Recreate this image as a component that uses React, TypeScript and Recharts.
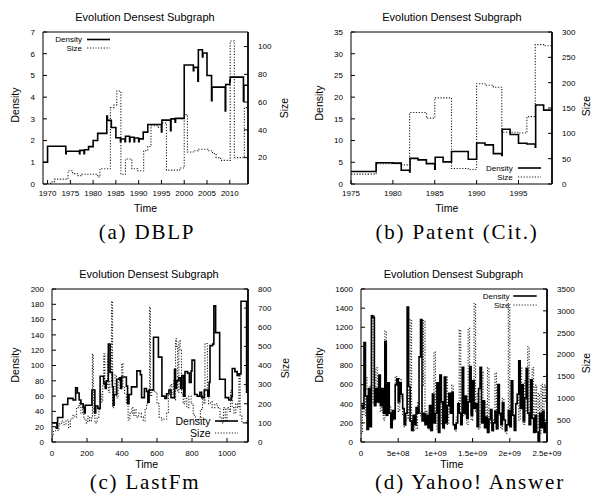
import React from "react";
import { ComposedChart, Line, XAxis, YAxis, Legend } from "recharts";

const SANS = '"Liberation Sans", Arial, Helvetica, sans-serif';
const SERIF = '"Liberation Serif", "DejaVu Serif", serif';
const SIZE_DASH = "1.2 1.6";

// (a) DBLP
const dblpDensityYear = [1969, 1970, 1974, 1974.1, 1977, 1977.1, 1978, 1978.1, 1979, 1980, 1981, 1983, 1983.15, 1984, 1985, 1986, 1986.1, 1987, 1987.1, 1988, 1988.1, 1989, 1989.1, 1990, 1990.1, 1991, 1992, 1995, 1995.1, 1997, 1997.1, 1998, 1998.1, 2000, 2002, 2002.1, 2003, 2003.1, 2004, 2004.1, 2005, 2006, 2006.1, 2009, 2009.1, 2010, 2010.1, 2013, 2013.1, 2014];
const dblpDensity = [1.0, 1.74, 1.4, 1.51, 1.4, 1.55, 1.4, 1.58, 1.72, 2.0, 2.33, 3.13, 2.93, 2.6, 2.13, 1.95, 2.07, 1.95, 2.2, 1.95, 2.15, 1.95, 2.12, 1.95, 2.08, 2.39, 2.74, 2.4, 2.94, 2.45, 3.0, 2.85, 3.02, 5.48, 5.22, 5.37, 4.73, 6.18, 5.85, 6.03, 5.0, 3.84, 4.46, 3.36, 4.58, 4.75, 4.92, 3.8, 4.55, 4.55];
const dblpSizeYear = [1969, 1970.3, 1971, 1971.5, 1974.5, 1975.5, 1976.5, 1977.5, 1981, 1981.5, 1983.8, 1984.6, 1985.2, 1986.1, 1987.1, 1988.5, 1989.8, 1991.1, 1992, 1992.7, 1994.3, 1995, 1996.1, 1999, 2000, 2000.7, 2002, 2003, 2005.2, 2006.2, 2007, 2008, 2010.1, 2011, 2013.2, 2014];
const dblpSize = [0.5, 1.5, 2.5, 4.5, 10.5, 8.5, 7, 8, 6, 12, 56, 58, 68, 8, 19, 12, 10.5, 25, 28, 43, 42, 45, 11, 12.5, 51, 24, 25, 26, 25, 23, 20, 18, 104, 20, 56, 56];
const dblpYearTicks = [1970, 1975, 1980, 1985, 1990, 1995, 2000, 2005, 2010];
const dblpDensityTicks = [0, 1, 2, 3, 4, 5, 6, 7];
const dblpSizeTicks = [20, 40, 60, 80, 100];

// (b) Patent (Cit.)
const patentDensityYear = [1975, 1978, 1980, 1981, 1982, 1982.05, 1983, 1984, 1985, 1985.05, 1986, 1987, 1989, 1990, 1991, 1992, 1993, 1993.05, 1994, 1995, 1996, 1997, 1997.05, 1998, 1999];
const patentDensity = [2.87, 4.9, 4.8, 3.17, 2.8, 5.9, 5.55, 4.7, 3.4, 6.15, 5.1, 7.5, 5.7, 9.45, 9.0, 7.0, 6.6, 12.6, 11.4, 9.4, 9.2, 8.5, 18.2, 17.0, 17.0];
const patentSizeYear = [1975, 1978, 1981, 1982, 1984, 1985, 1987, 1989, 1990, 1991, 1992, 1993, 1995, 1996, 1997, 1998, 1999];
const patentSize = [19.5, 40, 37.7, 141, 130, 170, 30.5, 28.6, 198, 195, 191, 102, 100.6, 133, 275, 273, 273];
const patentYearTicks = [1975, 1980, 1985, 1990, 1995];
const patentDensityTicks = [0, 5, 10, 15, 20, 25, 30, 35];
const patentSizeTicks = [0, 50, 100, 150, 200, 250, 300];

// (c) LastFm
const lastfmDensityTime = [0, 28, 32, 62, 90, 120, 135, 145, 155, 165, 178, 185, 190, 215, 228, 245, 250, 262, 275, 295, 305, 310, 322, 332, 345, 350, 355, 370, 385, 392, 398, 425, 432, 440, 454, 485, 505, 512, 528, 540, 548, 555, 580, 608, 628, 645, 655, 668, 680, 700, 706, 712, 725, 735, 742, 752, 760, 775, 785, 795, 800, 815, 830, 845, 855, 870, 890, 898, 903, 918, 925, 935, 958, 990, 1010, 1025, 1030, 1045, 1058, 1068, 1080, 1112, 1118];
const lastfmDensity = [25, 18, 32, 49, 57, 55, 71, 64, 55, 50, 45, 38, 48, 48, 68, 38, 47, 44, 86, 77, 70, 80, 128, 91, 72, 48, 62, 82, 84, 70, 85, 73, 50, 62, 72, 93, 88, 58, 70, 66, 52, 68, 137, 111, 60, 57, 63, 68, 58, 95, 70, 80, 84, 70, 87, 60, 92, 90, 78, 93, 107, 62, 60, 65, 58, 68, 60, 78, 126, 128, 178, 143, 82, 58, 55, 60, 96, 92, 87, 89, 184, 65, 65];
const lastfmSizeTime = [0, 8, 20, 30, 40, 55, 68, 80, 95, 105, 120, 130, 140, 150, 158, 165, 175, 182, 195, 205, 215, 225, 231, 236, 245, 258, 268, 276, 284, 290, 296, 302, 310, 318, 322, 330, 336, 340, 346, 352, 360, 368, 378, 390, 398, 405, 415, 425, 435, 445, 455, 462, 470, 480, 495, 510, 522, 532, 540, 548, 553, 558, 562, 570, 585, 600, 612, 625, 640, 655, 665, 675, 685, 695, 700, 706, 712, 718, 725, 732, 740, 750, 760, 770, 782, 795, 807, 820, 835, 848, 860, 868, 874, 888, 895, 905, 915, 930, 945, 960, 970, 980, 990, 1000, 1012, 1020, 1030, 1040, 1050, 1060, 1068, 1075, 1085, 1110, 1118];
const lastfmSize = [30, 55, 75, 60, 95, 110, 90, 115, 75, 120, 140, 130, 175, 190, 210, 150, 190, 120, 100, 135, 110, 125, 460, 150, 100, 130, 170, 250, 210, 300, 460, 280, 300, 460, 260, 320, 320, 735, 180, 260, 350, 230, 320, 280, 410, 290, 250, 200, 115, 150, 180, 140, 170, 130, 150, 130, 110, 170, 200, 250, 270, 705, 240, 270, 260, 200, 130, 115, 120, 150, 250, 300, 250, 330, 220, 540, 500, 260, 530, 480, 250, 200, 230, 180, 240, 200, 140, 115, 120, 170, 240, 200, 515, 260, 200, 210, 180, 200, 180, 130, 100, 180, 110, 180, 160, 270, 180, 150, 200, 180, 350, 140, 100, 110, 110];
const lastfmTimeTicks = [0, 200, 400, 600, 800, 1000];
const lastfmDensityTicks = [0, 20, 40, 60, 80, 100, 120, 140, 160, 180, 200];
const lastfmSizeTicks = [0, 100, 200, 300, 400, 500, 600, 700, 800];

// (d) Yahoo! Answer  (time in units of 1e9)
const yahooTime = [0, 0.02, 0.04, 0.06, 0.08, 0.1, 0.12, 0.14, 0.16, 0.18, 0.2, 0.22, 0.24, 0.26, 0.28, 0.3, 0.32, 0.34, 0.36, 0.38, 0.4, 0.42, 0.44, 0.46, 0.48, 0.5, 0.52, 0.54, 0.56, 0.58, 0.6, 0.62, 0.64, 0.66, 0.68, 0.7, 0.72, 0.74, 0.76, 0.78, 0.8, 0.82, 0.84, 0.86, 0.88, 0.9, 0.92, 0.94, 0.96, 0.98, 1.0, 1.02, 1.04, 1.06, 1.08, 1.1, 1.12, 1.14, 1.16, 1.18, 1.2, 1.22, 1.24, 1.26, 1.28, 1.3, 1.32, 1.34, 1.36, 1.38, 1.4, 1.42, 1.44, 1.46, 1.48, 1.5, 1.52, 1.54, 1.56, 1.58, 1.6, 1.62, 1.64, 1.66, 1.68, 1.7, 1.72, 1.74, 1.76, 1.78, 1.8, 1.82, 1.84, 1.86, 1.88, 1.9, 1.92, 1.94, 1.96, 1.98, 2.0, 2.02, 2.04, 2.06, 2.08, 2.1, 2.12, 2.14, 2.16, 2.18, 2.2, 2.22, 2.24, 2.26, 2.28, 2.3, 2.32, 2.34, 2.36, 2.38, 2.4, 2.42, 2.44, 2.46, 2.48, 2.5];
const yahooDensity = [380, 350, 1040, 480, 130, 560, 160, 1320, 1300, 380, 560, 420, 700, 380, 560, 300, 1050, 280, 620, 300, 150, 330, 250, 600, 660, 420, 620, 500, 350, 180, 300, 1410, 580, 220, 120, 280, 180, 360, 300, 890, 1280, 220, 300, 180, 280, 150, 380, 120, 500, 200, 300, 620, 100, 700, 420, 150, 680, 200, 380, 510, 300, 520, 180, 140, 200, 400, 300, 180, 780, 300, 480, 250, 420, 790, 280, 640, 350, 400, 160, 560, 780, 200, 430, 150, 260, 100, 240, 340, 120, 200, 320, 140, 600, 300, 180, 410, 230, 120, 180, 330, 160, 640, 280, 120, 400, 500, 850, 350, 600, 220, 460, 770, 300, 180, 650, 250, 100, 280, 105, 0, 300, 150, 320, 100, 200, 200];
const yahooSize = [200, 900, 600, 1500, 1200, 700, 1300, 900, 2900, 1100, 1700, 900, 1200, 700, 1000, 500, 2540, 600, 1200, 800, 400, 700, 500, 1500, 1300, 700, 1450, 1000, 600, 350, 500, 1200, 500, 2800, 400, 250, 600, 300, 900, 700, 600, 1300, 2780, 400, 700, 300, 800, 250, 1100, 2060, 600, 300, 1100, 1400, 400, 300, 800, 1500, 400, 1100, 700, 1300, 400, 250, 600, 900, 2560, 500, 1000, 600, 900, 400, 2600, 1000, 500, 900, 3170, 700, 1100, 300, 1200, 1600, 500, 900, 300, 1700, 400, 600, 250, 500, 1580, 300, 1200, 600, 300, 1000, 500, 200, 400, 3170, 350, 1300, 600, 300, 900, 1100, 500, 1700, 800, 400, 1400, 700, 2180, 400, 1000, 1700, 600, 1300, 300, 1100, 200, 1320, 600, 1300, 900, 900];
const yahooTimeTicks = [0, 0.5, 1, 1.5, 2, 2.5];
const yahooTimeLabels = ["0", "5e+08", "1e+09", "1.5e+09", "2e+09", "2.5e+09"];
const yahooDensityTicks = [0, 200, 400, 600, 800, 1000, 1200, 1400, 1600];
const yahooSizeTicks = [0, 500, 1000, 1500, 2000, 2500, 3000, 3500];

const W = 296;
const H = 250;

type Pt = [number, number];
type LegendCfg = { left: number; top: number; width: number; height: number; textRight: number; lineX1: number; lineX2: number; y1: number; y2: number; fontSize: number };

type PanelProps = {
  cx: number;
  cy: number;
  plot: { left: number; right: number; top: number; bottom: number };
  xDomain: [number, number];
  xTicks: number[];
  xFormat?: (v: number) => string;
  xTickMargin: number;
  dDomain: [number, number];
  dTicks: number[];
  sDomain: [number, number];
  sTicks: number[];
  densityT: number[];
  densityV: number[];
  sizeT: number[];
  sizeV: number[];
  legend: LegendCfg;
  title: Pt;
  densityLabel: Pt;
  sizeLabel: Pt;
  timeLabel: Pt;
  caption: string;
  captionAt: Pt;
};

function Txt({ at, cx, cy, rotate, style, children }: { at: Pt; cx: number; cy: number; rotate?: boolean; style?: React.CSSProperties; children: React.ReactNode }) {
  return (
    <div
      style={{
        position: "absolute",
        left: at[0] - cx,
        top: at[1] - cy,
        transform: `translate(-50%, -50%)${rotate ? " rotate(-90deg)" : ""}`,
        whiteSpace: "nowrap",
        lineHeight: 1,
        fontFamily: SANS,
        fontSize: 10.5,
        color: "#000",
        ...style,
      }}
    >
      {children}
    </div>
  );
}

function Panel(p: PanelProps) {
  const { cx, cy, plot, legend } = p;
  const leftW = plot.left - cx;
  const rightW = cx + W - plot.right;
  const bottomH = cy + H - plot.bottom;
  const densityData = p.densityT.map((t, i) => ({ t, v: p.densityV[i] }));
  const sizeData = p.sizeT.map((t, i) => ({ t, v: p.sizeV[i] }));
  const tickStyle = { fontSize: 8, fill: "#000", fontFamily: SANS };

  return (
    <div style={{ position: "absolute", left: cx, top: cy, width: W, height: H }}>
      <ComposedChart width={W} height={H} margin={{ top: plot.top - cy - 1, right: 0, bottom: 0, left: 0 }}>
        <XAxis
          xAxisId="b"
          type="number"
          dataKey="t"
          domain={p.xDomain}
          ticks={p.xTicks}
          interval={0}
          allowDataOverflow
          height={bottomH}
          tickSize={-4}
          tickMargin={p.xTickMargin}
          tick={tickStyle}
          tickFormatter={p.xFormat}
          axisLine={{ stroke: "#000" }}
          tickLine={{ stroke: "#000" }}
        />
        <XAxis
          xAxisId="top"
          orientation="top"
          type="number"
          domain={p.xDomain}
          ticks={p.xTicks}
          interval={0}
          allowDataOverflow
          height={1}
          tickSize={-4}
          tickFormatter={() => ""}
          axisLine={{ stroke: "#000" }}
          tickLine={{ stroke: "#000" }}
        />
        <YAxis
          yAxisId="d"
          type="number"
          domain={p.dDomain}
          ticks={p.dTicks}
          interval={0}
          allowDataOverflow
          width={leftW}
          tickSize={-4}
          tickMargin={12}
          tick={tickStyle}
          axisLine={{ stroke: "#000" }}
          tickLine={{ stroke: "#000" }}
        />
        <YAxis
          yAxisId="s"
          orientation="right"
          type="number"
          domain={p.sDomain}
          ticks={p.sTicks}
          interval={0}
          allowDataOverflow
          width={rightW}
          tickSize={-4}
          tickMargin={14}
          tick={{ ...tickStyle, textAnchor: "start" }}
          axisLine={{ stroke: "#000", strokeWidth: 1.8 }}
          tickLine={{ stroke: "#000" }}
        />
        <Line
          xAxisId="b"
          yAxisId="s"
          data={sizeData}
          dataKey="v"
          name="Size"
          type="stepAfter"
          stroke="#222"
          strokeWidth={1.1}
          strokeDasharray={SIZE_DASH}
          dot={false}
          activeDot={false}
          isAnimationActive={false}
        />
        <Line
          xAxisId="b"
          yAxisId="d"
          data={densityData}
          dataKey="v"
          name="Density"
          type="stepAfter"
          stroke="#000"
          strokeWidth={1.6}
          dot={false}
          activeDot={false}
          isAnimationActive={false}
        />
        <Legend
          layout="vertical"
          align="center"
          verticalAlign="middle"
          wrapperStyle={{ left: legend.left, top: legend.top, width: legend.width, height: legend.height }}
          content={() => (
            <svg width={legend.width} height={legend.height} style={{ display: "block", overflow: "visible" }}>
              {["Density", "Size"].map((name, i) => {
                const y = i === 0 ? legend.y1 : legend.y2;
                return (
                  <g key={name}>
                    <text x={legend.textRight} y={y} textAnchor="end" dominantBaseline="central" fontSize={legend.fontSize} fontFamily={SANS} fill="#000">
                      {name}
                    </text>
                    <line
                      x1={legend.lineX1}
                      x2={legend.lineX2}
                      y1={y}
                      y2={y}
                      stroke={i === 0 ? "#000" : "#222"}
                      strokeWidth={i === 0 ? 1.6 : 1.1}
                      strokeDasharray={i === 0 ? undefined : SIZE_DASH}
                    />
                  </g>
                );
              })}
            </svg>
          )}
        />
      </ComposedChart>
      <Txt at={p.title} cx={cx} cy={cy} style={{ fontSize: 11 }}>Evolution Densest Subgraph</Txt>
      <Txt at={p.densityLabel} cx={cx} cy={cy} rotate>Density</Txt>
      <Txt at={p.sizeLabel} cx={cx} cy={cy} rotate>Size</Txt>
      <Txt at={p.timeLabel} cx={cx} cy={cy}>Time</Txt>
      <Txt at={p.captionAt} cx={cx} cy={cy} style={{ fontFamily: SERIF, fontSize: 21, letterSpacing: 1.8 }}>{p.caption}</Txt>
    </div>
  );
}

export default function App() {
  return (
    <div style={{ position: "absolute", left: 0, top: 0, width: 592, height: 500, overflow: "hidden", background: "#fff" }}>
      <Panel
        cx={0}
        cy={0}
        plot={{ left: 43, right: 248, top: 32, bottom: 184 }}
        xDomain={[1969, 2014]}
        xTicks={dblpYearTicks}
        xTickMargin={10}
        dDomain={[0, 7]}
        dTicks={dblpDensityTicks}
        sDomain={[1, 110.5]}
        sTicks={dblpSizeTicks}
        densityT={dblpDensityYear}
        densityV={dblpDensity}
        sizeT={dblpSizeYear}
        sizeV={dblpSize}
        legend={{ left: 50, top: 32, width: 65, height: 22, textRight: 32, lineX1: 37, lineX2: 60, y1: 7.5, y2: 16, fontSize: 8 }}
        title={[145, 16.5]}
        densityLabel={[15, 105]}
        sizeLabel={[284, 108]}
        timeLabel={[145.5, 208]}
        caption="(a) DBLP"
        captionAt={[147, 232]}
      />
      <Panel
        cx={296}
        cy={0}
        plot={{ left: 351, right: 552, top: 32, bottom: 184 }}
        xDomain={[1975, 1999]}
        xTicks={patentYearTicks}
        xTickMargin={10}
        dDomain={[0, 35]}
        dTicks={patentDensityTicks}
        sDomain={[0, 300]}
        sTicks={patentSizeTicks}
        densityT={patentDensityYear}
        densityV={patentDensity}
        sizeT={patentSizeYear}
        sizeV={patentSize}
        legend={{ left: 184, top: 160, width: 65, height: 25, textRight: 32.7, lineX1: 38, lineX2: 61, y1: 8, y2: 17, fontSize: 8 }}
        title={[452, 16.5]}
        densityLabel={[318.7, 103]}
        sizeLabel={[585.5, 106]}
        timeLabel={[446.8, 208]}
        caption="(b) Patent (Cit.)"
        captionAt={[457, 232]}
      />
      <Panel
        cx={0}
        cy={250}
        plot={{ left: 52, right: 248, top: 289, bottom: 442 }}
        xDomain={[0, 1120]}
        xTicks={lastfmTimeTicks}
        xTickMargin={12}
        dDomain={[0, 200]}
        dTicks={lastfmDensityTicks}
        sDomain={[0, 800]}
        sTicks={lastfmSizeTicks}
        densityT={lastfmDensityTime}
        densityV={lastfmDensity}
        sizeT={lastfmSizeTime}
        sizeV={lastfmSize}
        legend={{ left: 170, top: 160, width: 72, height: 32, textRight: 40.5, lineX1: 45, lineX2: 68, y1: 11, y2: 23, fontSize: 10.5 }}
        title={[149, 274]}
        densityLabel={[15, 365]}
        sizeLabel={[285, 367.5]}
        timeLabel={[146.7, 464]}
        caption="(c) LastFm"
        captionAt={[145, 482]}
      />
      <Panel
        cx={296}
        cy={250}
        plot={{ left: 361, right: 547, top: 289, bottom: 442 }}
        xDomain={[0, 2.5]}
        xTicks={yahooTimeTicks}
        xFormat={(v) => yahooTimeLabels[yahooTimeTicks.indexOf(v)] ?? String(v)}
        xTickMargin={12}
        dDomain={[0, 1600]}
        dTicks={yahooDensityTicks}
        sDomain={[0, 3500]}
        sTicks={yahooSizeTicks}
        densityT={yahooTime}
        densityV={yahooDensity}
        sizeT={yahooTime}
        sizeV={yahooSize}
        legend={{ left: 179, top: 39, width: 65, height: 22, textRight: 34.5, lineX1: 38.3, lineX2: 61.7, y1: 7, y2: 16, fontSize: 8 }}
        title={[453.5, 274]}
        densityLabel={[318.7, 365]}
        sizeLabel={[585.5, 362.5]}
        timeLabel={[451.8, 464]}
        caption="(d) Yahoo! Answer"
        captionAt={[470, 482]}
      />
    </div>
  );
}
